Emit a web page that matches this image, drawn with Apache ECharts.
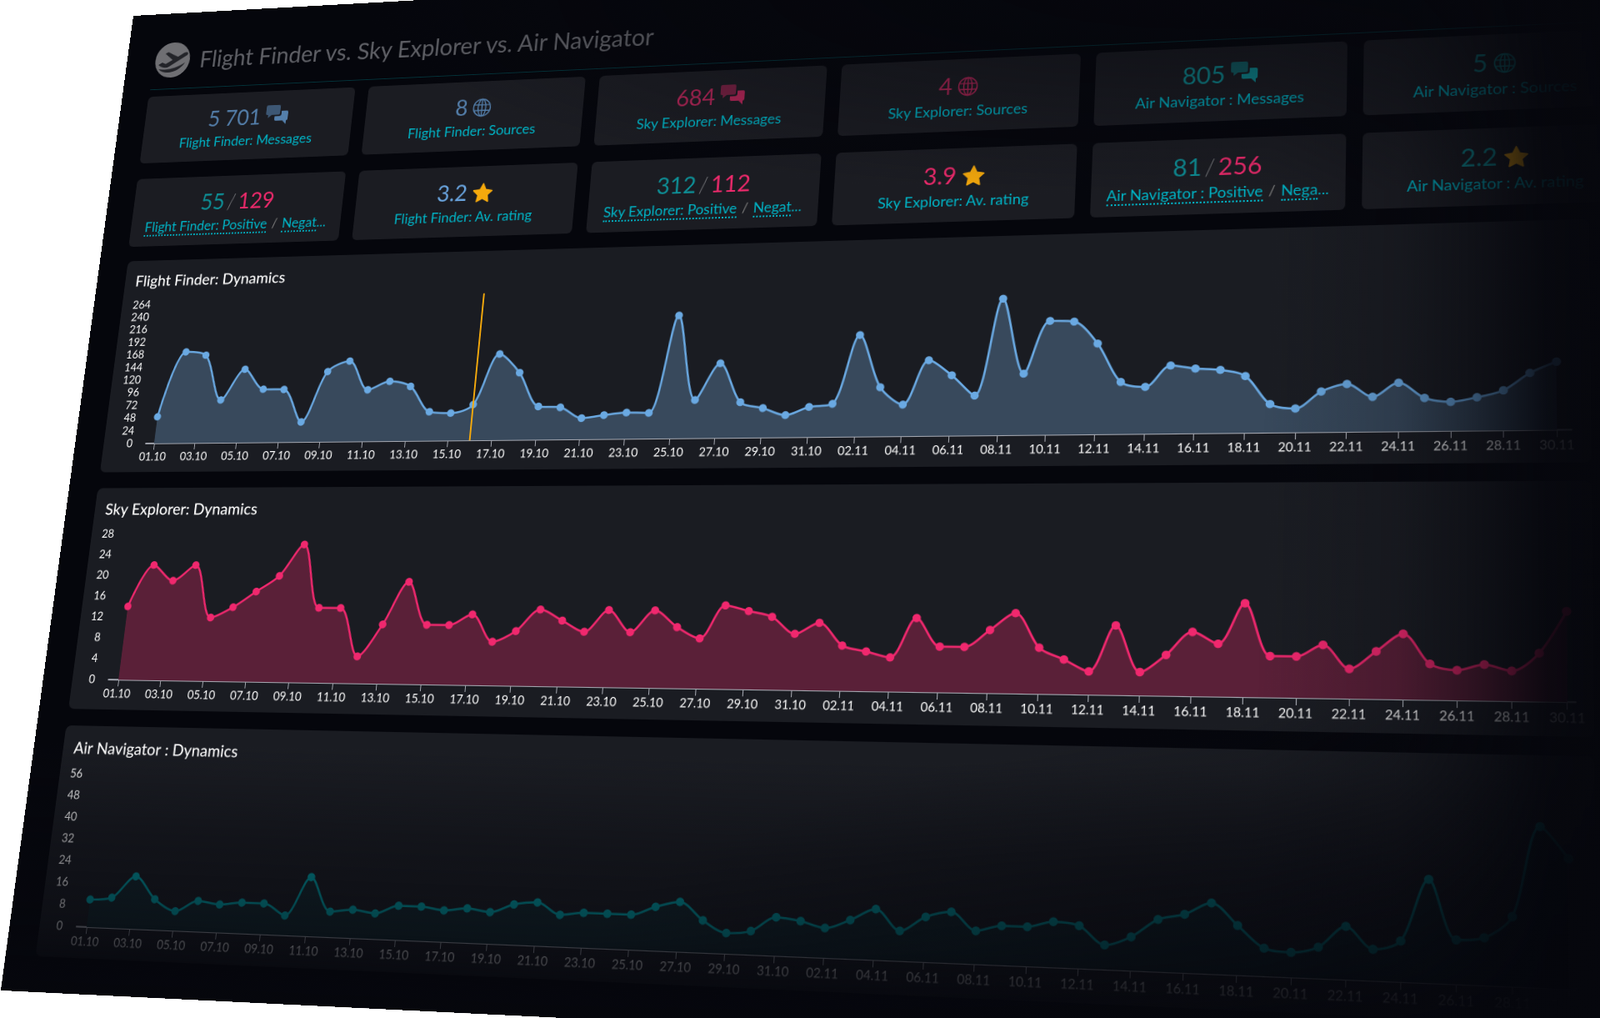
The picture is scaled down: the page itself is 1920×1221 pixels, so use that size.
<!DOCTYPE html>
<html>
<head>
<meta charset="UTF-8">
<title>Flight Finder vs. Sky Explorer vs. Air Navigator</title>
<script src="https://cdn.jsdelivr.net/npm/echarts@6/dist/echarts.min.js"></script>
<style>
    html, body { margin: 0; width: 1920px; height: 1221px; overflow: hidden; background: #fff; }
    body { font-family: Lato, "Noto Sans", sans-serif; }
    #board { position: absolute; left: 0; top: 0; width: 1800px; height: 1230px; background: #05060c; overflow: hidden; transform-origin: 0 0; }
    #logo { position: absolute; left: 40px; top: 40px; width: 48px; height: 48px; }
    #title { position: absolute; left: 102px; top: 44px; font-size: 30px; line-height: 40px; color: #606167; white-space: nowrap; }
    #rule { position: absolute; left: 38px; right: 18px; top: 103px; height: 1px; background: rgba(0, 170, 180, .28); }
    .card { position: absolute; width: 283px; height: 90px; border-radius: 6px; background: #1b1c22; text-align: center; }
    .val { position: absolute; left: 0; right: 0; top: 14px; height: 38px; line-height: 38px; font-size: 28px; white-space: nowrap; }
    .val svg { vertical-align: -3px; margin-left: 6px; }
    .lab { position: absolute; left: 0; right: 0; top: 54px; line-height: 22px; font-size: 17.5px; color: #00b4c6; white-space: nowrap; }
    .lab u { text-decoration: none; border-bottom: 2px dotted #00b4c6; }
    .lab i { font-style: normal; color: #777; margin: 0 6px; }
    .dim { opacity: .72; }
    .blue { color: #6aa5e0; } .pink { color: #ee2a6c; } .teal { color: #0e8f96; } .sl { color: #6b6c70; font-weight: 300; margin: 0 3px; }
    .panel { position: absolute; left: 39px; width: 1743px; height: 272px; border-radius: 7px; background: #1a1c22; }
    #fade { position: absolute; left: 0; top: 0; right: 0; bottom: 0; pointer-events: none;
        background:
            radial-gradient(ellipse 62% 24% at 80% 0%, rgba(5,6,12,.72), rgba(5,6,12,0) 100%),
            radial-gradient(ellipse 62% 30% at 100% 100%, rgba(5,6,12,.92), rgba(5,6,12,0) 100%),
            linear-gradient(to right, rgba(5,6,12,0) 80%, rgba(5,6,12,.2) 88%, rgba(5,6,12,.5) 92%, rgba(5,6,12,.9) 96.5%, rgba(5,6,12,.97) 100%),
            linear-gradient(to bottom, rgba(5,6,12,0) 76%, rgba(5,6,12,.4) 85%, rgba(5,6,12,.62) 93%, rgba(5,6,12,.85) 97%, rgba(5,6,12,.95) 100%);
    }
</style>
</head>
<body>
<div id="board">
    <svg id="logo" viewBox="0 0 48 48">
        <circle cx="24" cy="24" r="24" fill="#6f6f73"/>
        <path d="M5 30 L10 27 L15 29 L24 24 L13 15 L17 13 L31 20 L39 15 C43 13 46 15 44 18 L20 33 C16 35 11 35 5 30 Z" fill="#232429"/>
        <path d="M6 36 C18 38 30 36 42 28 C36 40 16 46 6 36 Z" fill="#232429"/>
    </svg>
    <div id="title">Flight Finder vs. Sky Explorer vs. Air Navigator</div>
    <div id="rule"></div>
    <div id="cards"></div>
    <div class="panel" id="p1" style="top:333px"></div>
    <div class="panel" id="p2" style="top:625px"></div>
    <div class="panel" id="p3" style="top:917px"></div>
    <div id="fade"></div>
</div>
<script>
    // day 1 = 01.10, day 61 = 30.11
    var xTickDays = [1, 3, 5, 7, 9, 11, 13, 15, 17, 19, 21, 23, 25, 27, 29, 31, 33, 35, 37, 39, 41, 43, 45, 47, 49, 51, 53, 55, 57, 59, 61];
    var xTickLabels = ['01.10', '03.10', '05.10', '07.10', '09.10', '11.10', '13.10', '15.10', '17.10', '19.10', '21.10', '23.10', '25.10', '27.10', '29.10', '31.10',
        '02.11', '04.11', '06.11', '08.11', '10.11', '12.11', '14.11', '16.11', '18.11', '20.11', '22.11', '24.11', '26.11', '28.11', '30.11'];

    var flightTicks = [0, 24, 48, 72, 96, 120, 144, 168, 192, 216, 240, 264];
    var skyTicks = [0, 4, 8, 12, 16, 20, 24, 28];
    var airTicks = [0, 8, 16, 24, 32, 40, 48, 56];

    var flightValues = [50, 172, 165, 80, 137, 99, 98, 37, 130, 149, 95, 110, 100, 53, 50, 65, 157, 122, 60, 58, 38, 43, 47, 46, 221, 68, 133, 63, 52, 39, 53, 58,
        179, 86, 55, 132, 105, 69, 238, 106, 197, 195, 156, 89, 80, 116, 110, 107, 96, 48, 40, 68, 80, 58, 81, 55, 48, 55, 66, 94, 112];
    var skyValues = [14, 22, 19, 22, 12, 14, 17, 20, 26, 14, 14, 5, 11, 19, 11, 11, 13, 8, 10, 14, 12, 10, 14, 10, 14, 11, 9, 15, 14, 13, 10,
        12, 8, 7, 6, 13, 8, 8, 11, 14, 8, 6, 4, 12, 4, 7, 11, 9, 16, 7, 7, 9, 5, 8, 11, 6, 5, 6, 5, 8, 15];
    var airValues = [10, 11, 19, 11, 7, 11, 10, 11, 11, 7, 21, 9, 10, 9, 12, 12, 11, 12, 11, 14, 15, 11, 12, 12, 12, 15, 17, 11, 7, 8, 13, 12,
        10, 13, 17, 10, 15, 17, 11, 13, 13, 15, 14, 8, 11, 17, 19, 23, 16, 9, 8, 10, 17, 10, 13, 33, 14, 15, 22, 51, 41];

    // cards, left to right, top row first
    var chat = '<svg width="30" height="28" viewBox="0 0 30 28" fill="currentColor"><path d="M2 0h15a2 2 0 0 1 2 2v9a2 2 0 0 1-2 2H8l-5 4v-4H2a2 2 0 0 1-2-2V2a2 2 0 0 1 2-2z" opacity=".6"/><path d="M21 8h7a2 2 0 0 1 2 2v9a2 2 0 0 1-2 2v5l-5-5h-9a2 2 0 0 1-2-2v-4h6a3 3 0 0 0 3-3z"/></svg>';
    var globe = '<svg width="25" height="25" viewBox="0 0 24 24" fill="none" stroke="currentColor" stroke-width="1.4"><circle cx="12" cy="12" r="10.5"/><ellipse cx="12" cy="12" rx="4.8" ry="10.5"/><path d="M2 8.5h20M2 15.5h20M12 1.500v21"/></svg>';
    var star = '<svg width="27" height="26" viewBox="0 0 24 23"><path fill="#f5a90c" stroke="#f5a90c" stroke-width="1.500" stroke-linejoin="round" d="M12 1.500l3.200 6.800 7.300 1-5.300 5.100 1.300 7.300-6.500-3.500-6.500 3.500 1.300-7.300L1.500 9.300l7.300-1z"/></svg>';
    var cardRows = [
        ['<span class="blue dim">5 701' + chat + '</span>', 'Flight Finder: Messages'],
        ['<span class="blue dim">8' + globe + '</span>', 'Flight Finder: Sources'],
        ['<span class="pink dim">684' + chat + '</span>', 'Sky Explorer: Messages'],
        ['<span class="pink dim">4' + globe + '</span>', 'Sky Explorer: Sources'],
        ['<span class="teal">805' + chat + '</span>', 'Air Navigator : Messages'],
        ['<span class="teal">5' + globe + '</span>', 'Air Navigator : Sources'],
        ['<span class="teal">55</span><span class="sl">/</span><span class="pink">129</span>', '<u>Flight Finder: Positive</u><i>/</i><u>Negat</u>...'],
        ['<span class="blue">3.2' + star + '</span>', 'Flight Finder: Av. rating'],
        ['<span class="teal">312</span><span class="sl">/</span><span class="pink">112</span>', '<u>Sky Explorer: Positive</u><i>/</i><u>Negat</u>...'],
        ['<span class="pink">3.9' + star + '</span>', 'Sky Explorer: Av. rating'],
        ['<span class="teal">81</span><span class="sl">/</span><span class="pink">256</span>', '<u>Air Navigator : Positive</u><i>/</i><u>Nega</u>...'],
        ['<span class="teal">2.2' + star + '</span>', 'Air Navigator : Av. rating']
    ];
    var cardsHtml = '';
    for (var i = 0; i < cardRows.length; i++) {
        var col = i % 6, row = Math.floor(i / 6);
        cardsHtml += '<div class="card" style="left:' + (37 + col * 301) + 'px;top:' + (113 + row * 111) + 'px">' +
            '<div class="val">' + cardRows[i][0] + '</div><div class="lab">' + cardRows[i][1] + '</div></div>';
    }
    document.getElementById('cards').innerHTML = cardsHtml;

    // the whole board is tilted onto this quad of the page
    function tilt(el, tl, tr, br, bl) {
        var W = el.offsetWidth, H = el.offsetHeight;
        var dx1 = tr[0] - br[0], dx2 = bl[0] - br[0], sx = tl[0] - tr[0] + br[0] - bl[0];
        var dy1 = tr[1] - br[1], dy2 = bl[1] - br[1], sy = tl[1] - tr[1] + br[1] - bl[1];
        var det = dx1 * dy2 - dx2 * dy1;
        var g = (sx * dy2 - dx2 * sy) / det, h = (dx1 * sy - sx * dy1) / det;
        var a = tr[0] - tl[0] + g * tr[0], b = bl[0] - tl[0] + h * bl[0];
        var d = tr[1] - tl[1] + g * tr[1], e = bl[1] - tl[1] + h * bl[1];
        el.style.transform = 'matrix3d(' + [a / W, d / W, 0, g / W, b / H, e / H, 0, h / H, 0, 0, 1, 0, tl[0], tl[1], 0, 1].join(',') + ')';
    }
    tilt(document.getElementById('board'), [160, 19], [1924, -78], [1940, 1283], [1, 1188]);

    function drawChart(id, name, values, yTicks, yMax, xMin, xMax, grid, lineColor, areaColor, extra) {
        var chart = echarts.init(document.getElementById(id), null, { devicePixelRatio: 2 });
        var points = [];
        for (var i = 0; i < values.length; i++) {
            points.push([i + 1, values[i]]);
        }
        var series = {
            type: 'line',
            data: points,
            smooth: 0.3,
            symbol: 'circle',
            symbolSize: 9.5,
            clip: false,
            animation: false,
            itemStyle: { color: lineColor },
            lineStyle: { color: lineColor, width: 2.5 },
            areaStyle: { color: areaColor, opacity: 1 }
        };
        if (extra) {
            series.markLine = extra;
        }
        chart.setOption({
            animation: false,
            title: {
                text: name, left: 9, top: 12,
                textStyle: { color: '#fff', fontFamily: 'Lato', fontSize: 19.5, fontWeight: 500 }
            },
            grid: grid,
            xAxis: {
                type: 'value', min: xMin, max: xMax,
                splitLine: { show: false },
                axisLine: { show: true, onZero: false, lineStyle: { color: '#a4a7b0', width: 2 } },
                axisTick: { show: true, customValues: xTickDays, length: 8, lineStyle: { color: '#a4a7b0', width: 1 } },
                axisLabel: {
                    customValues: xTickDays, margin: 10, color: '#fff', fontFamily: 'Lato', fontSize: 14,
                    formatter: function (v) { return xTickLabels[xTickDays.indexOf(v)]; }
                }
            },
            yAxis: {
                type: 'value', min: 0, max: yMax,
                splitLine: { show: false },
                axisLine: { show: false },
                axisTick: { show: false },
                axisLabel: { customValues: yTicks, margin: 18, color: '#fff', fontFamily: 'Lato', fontSize: 14 }
            },
            series: [series]
        });
    }

    drawChart('p1', 'Flight Finder: Dynamics', flightValues, flightTicks, 283, 0.6, 61.54,
        { left: 57, right: 20, top: 45, bottom: 36 }, '#6aa9e2', '#38495c',
        {
            silent: true, symbol: 'none', label: { show: false },
            lineStyle: { color: '#f5a90c', width: 2, type: 'solid' },
            data: [[{ coord: [16, 0] }, { coord: [16, 270] }]]
        });
    drawChart('p2', 'Sky Explorer: Dynamics', skyValues, skyTicks, 28, 0.53, 61.3,
        { left: 48, right: 18, top: 57.5, bottom: 36 }, '#f0286e', '#5a2038');
    drawChart('p3', 'Air Navigator : Dynamics', airValues, airTicks, 56, 0.53, 61.3,
        { left: 48, right: 18, top: 57.5, bottom: 36 }, '#00a0a8', '#16292f');
</script>
</body>
</html>
